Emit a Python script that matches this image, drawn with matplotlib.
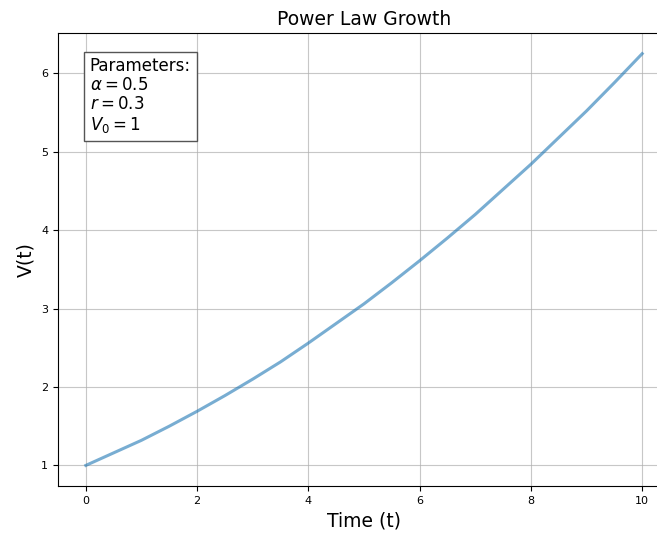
import matplotlib
matplotlib.use("Agg")
import matplotlib.pyplot as plt

# Values
t_values = [0, 0.5, 1, 1.5, 2, 2.5, 3, 3.5, 4, 4.5, 5, 5.5, 6, 6.5, 7, 7.5, 8, 8.5, 9, 9.5, 10]
v_values = [1.00, 1.16, 1.32, 1.50, 1.69, 1.89, 2.10, 2.32, 2.56, 2.81, 3.06,
            3.33, 3.61, 3.90, 4.20, 4.52, 4.84, 5.18, 5.52, 5.88, 6.25]
x_ticks = [0, 2, 4, 6, 8, 10]
y_ticks = [1, 2, 3, 4, 5, 6]
title = "Power Law Growth"
x_label = "Time (t)"
y_label = "V(t)"
param_text = "Parameters:\n$\\alpha = 0.5$\n$r = 0.3$\n$V_0 = 1$"

fig = plt.figure(figsize=(6.57, 5.36), dpi=100)
ax = fig.add_axes([0.0883, 0.0933, 0.9315, 0.845])
ax.plot(t_values, v_values, color="#1f77b4", alpha=0.6, linewidth=2.2)
ax.set_xticks(x_ticks)
ax.set_yticks(y_ticks)
ax.tick_params(labelsize=8)
ax.grid(True, alpha=0.7)
ax.set_title(title, fontsize=13.5)
ax.set_xlabel(x_label, fontsize=13.5)
ax.set_ylabel(y_label, fontsize=13.5)
ax.text(0.052, 0.948, param_text, transform=ax.transAxes, fontsize=12,
        va="top", ha="left", linespacing=1.1,
        bbox=dict(boxstyle="square,pad=0.35", facecolor="white", edgecolor="#555555"))
fig.savefig("out.png", dpi=100)
